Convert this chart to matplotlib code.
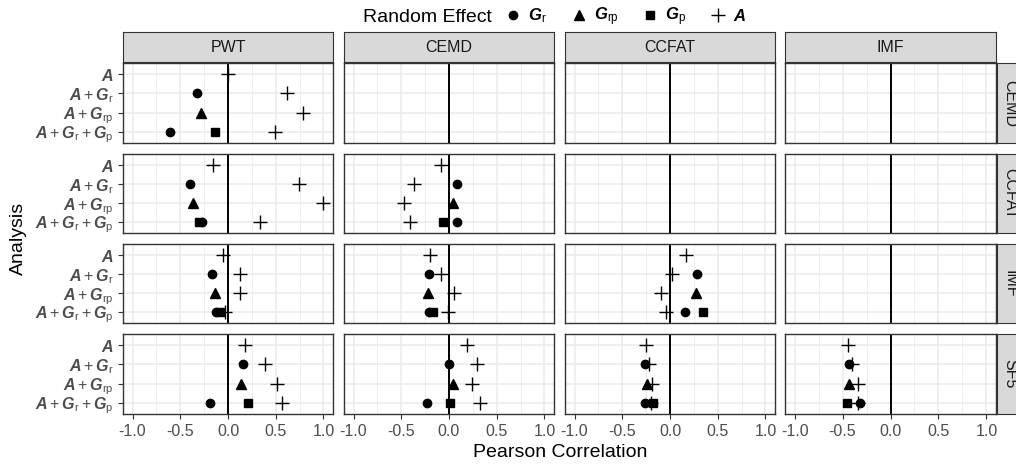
import matplotlib
matplotlib.use("Agg")
import matplotlib.pyplot as plt
from matplotlib.lines import Line2D
import pandas as pd

plt.rcParams["font.family"] = ["Liberation Sans", "DejaVu Sans"]
plt.rcParams["mathtext.fontset"] = "custom"
plt.rcParams["mathtext.rm"] = "Liberation Sans"
plt.rcParams["mathtext.it"] = "Liberation Sans:italic"
plt.rcParams["mathtext.bf"] = "Liberation Sans:bold"
plt.rcParams["mathtext.bfit"] = "Liberation Sans:bold:italic"

# facet rows / columns
analyses = ["CEMD", "CCFAT", "IMF", "SF5"]
methods = ["PWT", "CEMD", "CCFAT", "IMF"]
model_labels = [r"$\mathbfit{A}$",
                r"$\mathbfit{A} + \mathbfit{G}_\mathrm{r}$",
                r"$\mathbfit{A} + \mathbfit{G}_\mathrm{rp}$",
                r"$\mathbfit{A} + \mathbfit{G}_\mathrm{r} + \mathbfit{G}_\mathrm{p}$"]
effects = ["Gr", "Grp", "Gp", "A"]
effect_labels = [r"$\mathbfit{G}_\mathrm{r}$", r"$\mathbfit{G}_\mathrm{rp}$",
                 r"$\mathbfit{G}_\mathrm{p}$", r"$\mathbfit{A}$"]

# panels that hold data (analysis row, method column)
panel_rows = ["CEMD", "CCFAT", "CCFAT", "IMF", "IMF", "IMF", "SF5", "SF5", "SF5", "SF5"]
panel_cols = ["PWT", "PWT", "CEMD", "PWT", "CEMD", "CCFAT", "PWT", "CEMD", "CCFAT", "IMF"]

# model A
a_m1 = [0.00, -0.16, -0.08, -0.05, -0.20, 0.17, 0.18, 0.19, -0.25, -0.44]
# model A + Gr
gr_m2 = [-0.33, -0.40, 0.08, -0.17, -0.21, 0.28, 0.16, 0.00, -0.26, -0.43]
a_m2 = [0.62, 0.74, -0.37, 0.13, -0.08, 0.02, 0.39, 0.29, -0.22, -0.40]
# model A + Grp
grp_m3 = [-0.28, -0.37, 0.04, -0.14, -0.22, 0.27, 0.14, 0.04, -0.24, -0.43]
a_m3 = [0.79, 1.00, -0.47, 0.13, 0.05, -0.09, 0.51, 0.24, -0.19, -0.34]
# model A + Gr + Gp
gr_m4 = [-0.61, -0.27, 0.08, -0.13, -0.21, 0.16, -0.19, -0.23, -0.26, -0.32]
gp_m4 = [-0.14, -0.30, -0.06, -0.08, -0.17, 0.35, 0.21, 0.01, -0.18, -0.45]
a_m4 = [0.49, 0.34, -0.41, -0.03, -0.01, -0.04, 0.57, 0.32, -0.20, -0.34]

series = [(0, "A", a_m1), (1, "Gr", gr_m2), (1, "A", a_m2), (2, "Grp", grp_m3),
          (2, "A", a_m3), (3, "Gr", gr_m4), (3, "Gp", gp_m4), (3, "A", a_m4)]
recs = []
for model, eff, vals in series:
    for r, c, v in zip(panel_rows, panel_cols, vals):
        recs.append({"analysis": r, "method": c, "model": model, "effect": eff, "r": v})
df = pd.DataFrame(recs)

markers = {"Gr": "o", "Grp": "^", "Gp": "s", "A": "+"}
msize = {"Gr": 6, "Grp": 6.5, "Gp": 5.5, "A": 10}

W, H = 1016, 465
fig = plt.figure(figsize=(W / 100, H / 100), dpi=100)

col_x = [(123, 333), (344, 554), (565, 775), (785, 996)]
row_y = [(63, 143), (154, 233), (244, 323), (334, 414)]
border = "#333333"
gray30 = "#4D4D4D"

for i, an in enumerate(analyses):
    y0, y1 = row_y[i]
    for j, me in enumerate(methods):
        x0, x1 = col_x[j]
        ax = fig.add_axes([x0 / W, 1 - y1 / H, (x1 - x0) / W, (y1 - y0) / H])
        ax.set_xlim(-1.1, 1.1)
        ax.set_ylim(3.6, -0.6)
        ax.set_xticks([-1, -0.5, 0, 0.5, 1])
        ax.set_xticks([-0.75, -0.25, 0.25, 0.75], minor=True)
        ax.set_yticks(range(4))
        ax.grid(which="major", color="#EBEBEB", lw=1.1)
        ax.grid(which="minor", axis="x", color="#EBEBEB", lw=0.55)
        ax.set_axisbelow(True)
        ax.axvline(0, color="black", lw=1.4, zorder=2)
        for s in ax.spines.values():
            s.set_color(border)
            s.set_linewidth(1.0)
        ax.tick_params(which="minor", length=0)
        ax.tick_params(which="major", length=3.5, width=0.8, color=border,
                       labelcolor=gray30)
        sub = df[(df.analysis == an) & (df.method == me)]
        for eff in effects:
            d = sub[sub.effect == eff]
            ax.plot(d["r"], d["model"], ls="none", marker=markers[eff],
                    ms=msize[eff], color="black", mew=1.0, zorder=3)
        if j == 0:
            ax.set_yticklabels(model_labels, fontsize=11.5)
        else:
            ax.tick_params(axis="y", length=0, labelleft=False)
        if i == 3:
            ax.set_xticklabels(["-1.0", "-0.5", "0.0", "0.5", "1.0"], fontsize=11.5)
        else:
            ax.tick_params(axis="x", length=0, labelbottom=False)

# top strips
for j, me in enumerate(methods):
    x0, x1 = col_x[j]
    sax = fig.add_axes([x0 / W, 1 - 62 / H, (x1 - x0) / W, 30 / H])
    sax.set_facecolor("#D9D9D9")
    sax.set_xticks([])
    sax.set_yticks([])
    for s in sax.spines.values():
        s.set_color(border)
    sax.text(0.5, 0.5, me, ha="center", va="center", fontsize=11.5, color="#1A1A1A",
             transform=sax.transAxes)

# right strips
for i, an in enumerate(analyses):
    y0, y1 = row_y[i]
    sax = fig.add_axes([997 / W, 1 - y1 / H, 26 / W, (y1 - y0) / H])
    sax.set_facecolor("#D9D9D9")
    sax.set_xticks([])
    sax.set_yticks([])
    for s in sax.spines.values():
        s.set_color(border)
    sax.text(0.5, 0.5, an, ha="center", va="center", rotation=-90, fontsize=11.5,
             color="#1A1A1A", transform=sax.transAxes)

fig.text(560 / W, 1 - 452 / H, "Pearson Correlation", ha="center", va="center",
         fontsize=14)
fig.text(18 / W, 1 - 238 / H, "Analysis", ha="center", va="center", rotation=90,
         fontsize=14)

# legend
fig.text(492 / W, 1 - 17 / H, "Random Effect", ha="right", va="center", fontsize=14)
handles = [Line2D([], [], ls="none", marker=markers[e], ms=msize[e], color="black",
                  mew=1.0) for e in effects]
fig.legend(handles, effect_labels, ncol=4, frameon=False, loc="center left",
           bbox_to_anchor=(505 / W, 1 - 17 / H), fontsize=12, handlelength=1.0,
           handletextpad=0.4, columnspacing=1.4, borderaxespad=0, borderpad=0)

fig.savefig("out.png", dpi=100)
